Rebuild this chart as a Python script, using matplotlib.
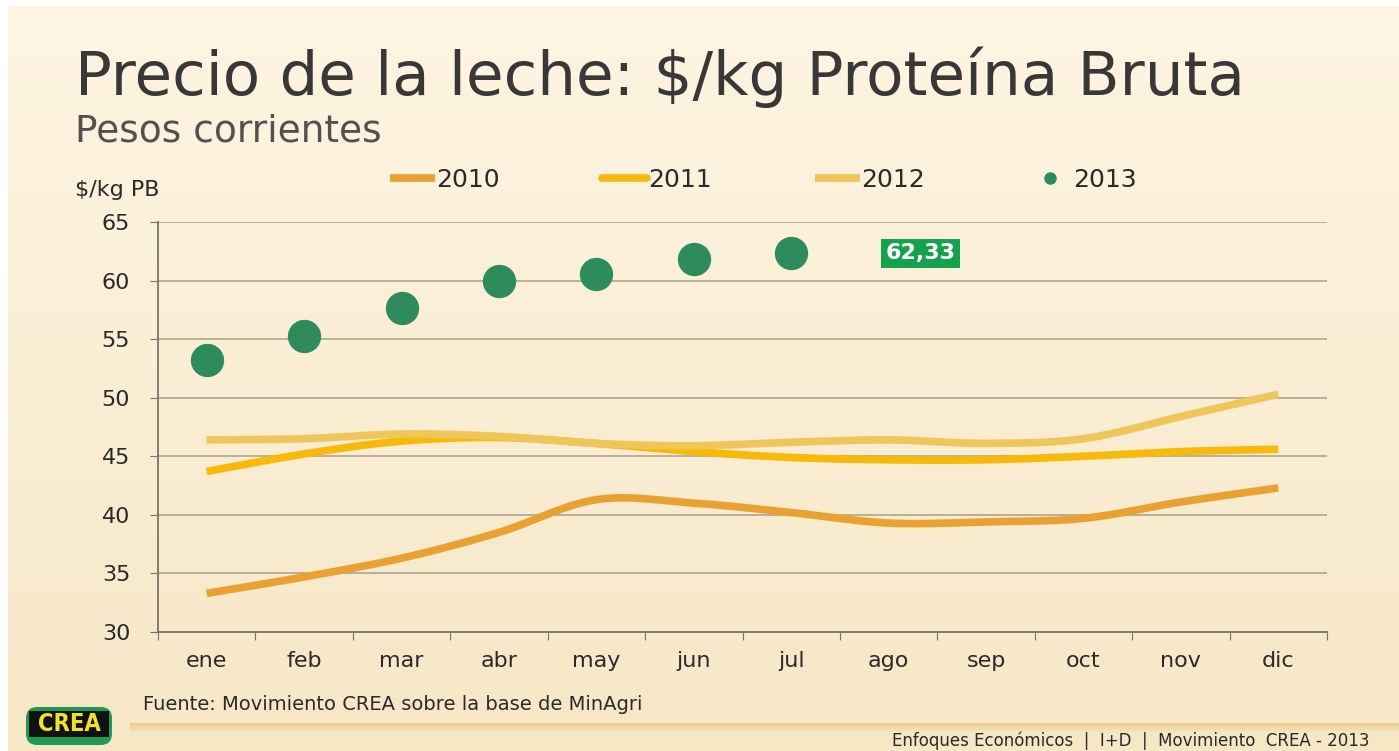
import numpy as np
import matplotlib
matplotlib.use("Agg")
import matplotlib.pyplot as plt
from matplotlib.lines import Line2D
from matplotlib.patches import FancyBboxPatch, Rectangle

plt.rcParams['font.family'] = ['DejaVu Sans']

months = ["ene", "feb", "mar", "abr", "may", "jun", "jul", "ago", "sep", "oct", "nov", "dic"]
v2010 = [33.3, 34.7, 36.3, 38.5, 41.3, 41.0, 40.2, 39.3, 39.4, 39.7, 41.1, 42.3]
v2011 = [43.7, 45.2, 46.3, 46.6, 46.1, 45.4, 44.9, 44.7, 44.7, 45.0, 45.4, 45.6]
v2012 = [46.4, 46.5, 46.9, 46.7, 46.1, 45.9, 46.2, 46.4, 46.1, 46.5, 48.4, 50.3]
v2013 = [53.2, 55.3, 57.7, 60.0, 60.6, 61.8, 62.33]
series_names = ["2010", "2011", "2012", "2013"]
yticks = [30, 35, 40, 45, 50, 55, 60, 65]
label_2013 = "62,33"

c2010 = "#E9A232"
c2011 = "#F7B90A"
c2012 = "#EEC65A"
c2013 = "#2E8C5C"
txt = "#2a2a2a"


def smooth(x, y, n=24):
    """Catmull-Rom rendering of a line through the given points."""
    x = np.asarray(x, float)
    y = np.asarray(y, float)
    px = np.concatenate([[x[0]], x, [x[-1]]])
    py = np.concatenate([[y[0]], y, [y[-1]]])
    xs, ys = [], []
    t = np.linspace(0, 1, n, endpoint=False)
    for i in range(1, len(px) - 2):
        for arr, out in ((px, xs), (py, ys)):
            p0, p1, p2, p3 = arr[i - 1], arr[i], arr[i + 1], arr[i + 2]
            out.extend(0.5 * ((2 * p1) + (-p0 + p2) * t
                              + (2 * p0 - 5 * p1 + 4 * p2 - p3) * t ** 2
                              + (-p0 + 3 * p1 - 3 * p2 + p3) * t ** 3))
    xs.append(x[-1])
    ys.append(y[-1])
    return np.array(xs), np.array(ys)


W, H = 1399, 751
fig = plt.figure(figsize=(W / 100, H / 100), dpi=100)
fig.patch.set_facecolor("white")

# background gradient panel
bg = fig.add_axes([0, 0, 1, 1], zorder=-10)
grad = np.linspace(0, 1, 256).reshape(256, 1, 1)
top = np.array([0.995, 0.960, 0.890])
bot = np.array([0.968, 0.906, 0.775])
img = top + (bot - top) * grad * np.ones((256, 1, 3))
bg.imshow(img, aspect="auto", extent=[8 / W, 1, 0, 1 - 6 / H], origin="upper")
bg.set_xlim(0, 1)
bg.set_ylim(0, 1)
bg.axis("off")

# golden separator band near the bottom
for k, a in enumerate(np.linspace(0.55, 0.0, 10)):
    bg.add_patch(Rectangle((130 / W, (751 - 724 - k) / H), 1 - 130 / W, 1 / H,
                           color="#E2B65A", alpha=a, lw=0))

# main axes
ax = fig.add_axes([158 / W, (751 - 632) / H, (1327 - 158) / W, (632 - 222) / H])
ax.set_facecolor("none")
x = np.arange(len(months))

for vals, col, nm in ((v2010, c2010, series_names[0]),
                      (v2011, c2011, series_names[1]),
                      (v2012, c2012, series_names[2])):
    sx, sy = smooth(x, vals)
    ax.plot(sx, sy, color=col, lw=5.5, solid_capstyle="butt", zorder=3, label=nm)

x13 = np.arange(len(v2013))
ax.plot(x13, v2013, "o", color=c2013, ms=24, mec="none", zorder=4)

ax.annotate(label_2013, xy=(x13[-1], v2013[-1]), xytext=(93, 0),
            textcoords="offset points", ha="center", va="center",
            fontsize=16, fontweight="bold", color="white",
            bbox=dict(boxstyle="square,pad=0.2", fc="#14A24E", ec="none"))

ax.set_xlim(-0.5, len(months) - 0.5)
ax.set_ylim(30, 65)
ax.set_yticks(yticks)
ax.set_xticks(np.arange(len(months) + 1) - 0.5, minor=False)
ax.set_xticklabels([])
ax.set_xticks(x, minor=True)
ax.set_xticklabels(months, minor=True)
ax.tick_params(axis="x", which="major", length=6, color="#7a7468", direction="out")
ax.tick_params(axis="x", which="minor", length=0, labelsize=16, colors=txt, pad=14)
ax.tick_params(axis="y", length=6, color="#7a7468", labelsize=16, labelcolor=txt, pad=14)
ax.grid(axis="y", color="#ADA593", lw=1.2)
ax.set_axisbelow(True)
for s in ("top", "right"):
    ax.spines[s].set_visible(False)
for s in ("left", "bottom"):
    ax.spines[s].set_color("#7a7468")
    ax.spines[s].set_linewidth(1.3)

# legend
handles = [Line2D([], [], color=c2010, lw=5.5, solid_capstyle="butt"),
           Line2D([], [], color=c2011, lw=5.5, solid_capstyle="round"),
           Line2D([], [], color=c2012, lw=5.5, solid_capstyle="butt"),
           Line2D([], [], color=c2013, marker="o", ls="none", ms=8)]
fig.legend(handles, series_names, loc="center left", bbox_to_anchor=(390 / W, 1 - 180 / H),
           ncol=4, frameon=False, fontsize=18, handlelength=1.8, handletextpad=0.05,
           columnspacing=4.1, labelcolor=txt, borderpad=0, borderaxespad=0)

# texts
fig.text(75 / W, 1 - 95 / H, "Precio de la leche: $/kg Proteína Bruta",
         fontsize=44, color="#383838", va="baseline", ha="left")
fig.text(75 / W, 1 - 141 / H, "Pesos corrientes",
         fontsize=27, color="#555050", va="baseline", ha="left")
fig.text(75 / W, 1 - 190 / H, "$/kg PB", fontsize=16, color=txt,
         va="center", ha="left")
fig.text(143 / W, 1 - 705 / H, "Fuente: Movimiento CREA sobre la base de MinAgri",
         fontsize=14, color=txt, va="center", ha="left")
fig.text(1370 / W, 1 - 741 / H, "Enfoques Económicos  |  I+D  |  Movimiento  CREA - 2013",
         fontsize=12, color=txt, va="center", ha="right")

# CREA logo
bg.add_patch(FancyBboxPatch((26 / W, (751 - 745) / H), 86 / W, 38 / H,
                            boxstyle="round,pad=0,rounding_size=0.008",
                            fc="#1F9A55", ec="none", mutation_aspect=W / H))
bg.add_patch(Rectangle((29 / W, (751 - 737) / H), 80 / W, 26 / H, fc="#111111", ec="none"))
bg.text(69 / W, 1 - 724 / H, "CREA", fontsize=17, fontweight="black", color="#F2E02A",
        ha="center", va="center", family=["DejaVu Sans"], fontstretch="condensed")

fig.savefig("out.png", dpi=100, facecolor=fig.get_facecolor())
